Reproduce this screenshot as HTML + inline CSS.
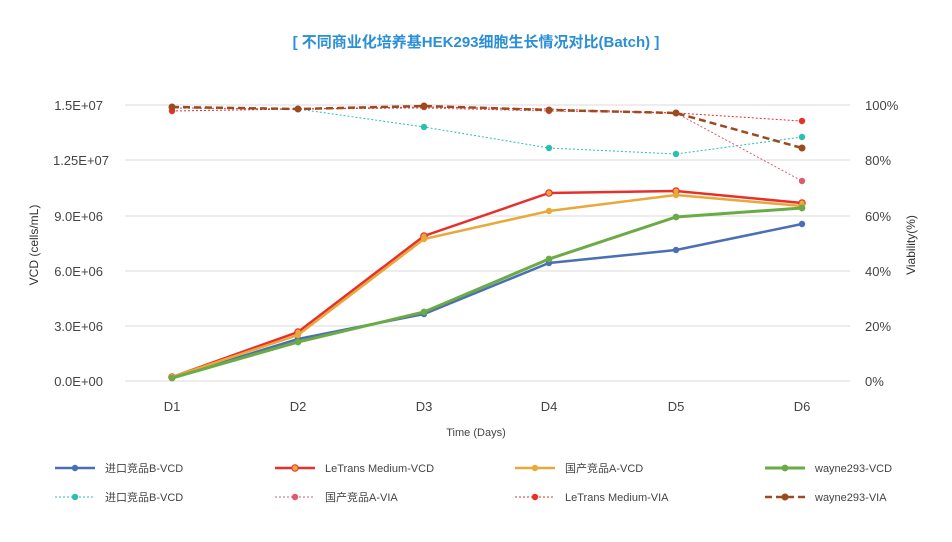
<!DOCTYPE html>
<html><head><meta charset="utf-8"><style>
html,body{margin:0;padding:0;background:#fff;}
svg{display:block;font-family:"Liberation Sans","Noto Sans CJK SC",sans-serif;}
</style></head><body>
<svg width="952" height="542" viewBox="0 0 952 542" xmlns="http://www.w3.org/2000/svg">
<text x="476" y="47" text-anchor="middle" font-size="15" font-weight="bold" fill="#2a8fd6">[ 不同商业化培养基HEK293细胞生长情况对比(Batch) ]</text>
<g stroke="#e2e2e2" stroke-width="1.3">
<line x1="125" y1="105" x2="850" y2="105"/><line x1="125" y1="160" x2="850" y2="160"/>
<line x1="125" y1="216" x2="850" y2="216"/><line x1="125" y1="271" x2="850" y2="271"/>
<line x1="125" y1="326" x2="850" y2="326"/><line x1="125" y1="381" x2="850" y2="381"/>
</g>
<g font-size="13" fill="#444" text-anchor="end">
<text x="103" y="110">1.5E+07</text><text x="109" y="165">1.25E+07</text>
<text x="103" y="221">9.0E+06</text><text x="103" y="276">6.0E+06</text>
<text x="103" y="331">3.0E+06</text><text x="103" y="386">0.0E+00</text>
</g>
<g font-size="13" fill="#444">
<text x="865" y="110">100%</text><text x="865" y="165">80%</text><text x="865" y="221">60%</text>
<text x="865" y="276">40%</text><text x="865" y="331">20%</text><text x="865" y="386">0%</text>
</g>
<g font-size="13" fill="#444" text-anchor="middle">
<text x="172" y="411">D1</text><text x="298" y="411">D2</text><text x="424" y="411">D3</text>
<text x="549" y="411">D4</text><text x="676" y="411">D5</text><text x="802" y="411">D6</text>
<text x="476" y="436" font-size="11">Time (Days)</text>
</g>
<text transform="translate(38,245) rotate(-90)" text-anchor="middle" font-size="12" fill="#333">VCD (cells/mL)</text>
<text transform="translate(915,245) rotate(-90)" text-anchor="middle" font-size="12" fill="#333">Viability(%)</text>

<!-- VIA dotted -->
<g fill="none" stroke-width="1" stroke-dasharray="2,2">
<polyline stroke="#2bbfb0" points="172,108 298,109 424,127 549,148 676,154 802,137"/>
<polyline stroke="#e05a6e" points="172,108 298,109 424,108 549,111 676,113 802,181"/>
<polyline stroke="#e8302a" points="172,111 298,109 424,107 549,109 676,113 802,121"/>
</g>
<g fill="#2bbfb0"><circle cx="172" cy="108" r="3.2"/><circle cx="298" cy="109" r="3.2"/><circle cx="424" cy="127" r="3.2"/><circle cx="549" cy="148" r="3.2"/><circle cx="676" cy="154" r="3.2"/><circle cx="802" cy="137" r="3.2"/></g>
<g fill="#e05a6e"><circle cx="549" cy="111" r="3.2"/><circle cx="802" cy="181" r="3.2"/></g>
<g fill="#e8302a"><circle cx="172" cy="111" r="3.2"/><circle cx="424" cy="107" r="3.2"/><circle cx="802" cy="121" r="3.2"/></g>
<polyline fill="none" stroke="#9c4a1e" stroke-width="2.5" stroke-dasharray="7,4" points="172,107 298,109 424,106 549,110 676,113 802,148"/>
<g fill="#9c4a1e"><circle cx="172" cy="107" r="3.5"/><circle cx="298" cy="109" r="3.5"/><circle cx="424" cy="106" r="3.5"/><circle cx="549" cy="110" r="3.5"/><circle cx="676" cy="113" r="3.5"/><circle cx="802" cy="148" r="3.5"/></g>

<!-- VCD -->
<polyline fill="none" stroke="#4a6fb5" stroke-width="2.5" points="172,378 298,339 424,314 549,263 676,250 802,224"/>
<g fill="#4a6fb5"><circle cx="172" cy="378" r="3.2"/><circle cx="298" cy="339" r="3.2"/><circle cx="424" cy="314" r="3.2"/><circle cx="549" cy="263" r="3.2"/><circle cx="676" cy="250" r="3.2"/><circle cx="802" cy="224" r="3.2"/></g>
<polyline fill="none" stroke="#e8302a" stroke-width="2.5" points="172,377 298,332 424,236 549,193 676,191 802,203"/>
<g fill="#e8a93a" stroke="#e8302a" stroke-width="1.2"><circle cx="172" cy="377" r="3.2"/><circle cx="298" cy="332" r="3.2"/><circle cx="424" cy="236" r="3.2"/><circle cx="549" cy="193" r="3.2"/><circle cx="676" cy="191" r="3.2"/><circle cx="802" cy="203" r="3.2"/></g>
<polyline fill="none" stroke="#e8a93a" stroke-width="2.5" points="172,377 298,335 424,239 549,211 676,195 802,206"/>
<g fill="#e8a93a"><circle cx="172" cy="377" r="3.2"/><circle cx="298" cy="335" r="3.2"/><circle cx="424" cy="239" r="3.2"/><circle cx="549" cy="211" r="3.2"/><circle cx="676" cy="195" r="3.2"/><circle cx="802" cy="206" r="3.2"/></g>
<polyline fill="none" stroke="#6aab45" stroke-width="3" points="172,378 298,342 424,312 549,259 676,217 802,208"/>
<g fill="#6aab45"><circle cx="172" cy="378" r="3.4"/><circle cx="298" cy="342" r="3.4"/><circle cx="424" cy="312" r="3.4"/><circle cx="549" cy="259" r="3.4"/><circle cx="676" cy="217" r="3.4"/><circle cx="802" cy="208" r="3.4"/></g>

<!-- legend -->
<g font-size="11" fill="#444">
<line x1="55" y1="468" x2="95" y2="468" stroke="#4a6fb5" stroke-width="2.5"/><circle cx="75" cy="468" r="3.2" fill="#4a6fb5"/><text x="105" y="472">进口竞品B-VCD</text>
<line x1="275" y1="468" x2="315" y2="468" stroke="#e8302a" stroke-width="2.5"/><circle cx="295" cy="468" r="3.2" fill="#e8a93a" stroke="#e8302a"/><text x="325" y="472">LeTrans Medium-VCD</text>
<line x1="515" y1="468" x2="555" y2="468" stroke="#e8a93a" stroke-width="2.5"/><circle cx="535" cy="468" r="3.2" fill="#e8a93a"/><text x="565" y="472">国产竞品A-VCD</text>
<line x1="765" y1="468" x2="805" y2="468" stroke="#6aab45" stroke-width="3"/><circle cx="785" cy="468" r="3.4" fill="#6aab45"/><text x="815" y="472">wayne293-VCD</text>
<line x1="55" y1="497" x2="95" y2="497" stroke="#2bbfb0" stroke-width="1" stroke-dasharray="2,2"/><circle cx="75" cy="497" r="3.2" fill="#2bbfb0"/><text x="105" y="501">进口竞品B-VCD</text>
<line x1="275" y1="497" x2="315" y2="497" stroke="#e05a6e" stroke-width="1" stroke-dasharray="2,2"/><circle cx="295" cy="497" r="3.2" fill="#e05a6e"/><text x="325" y="501">国产竞品A-VIA</text>
<line x1="515" y1="497" x2="555" y2="497" stroke="#e8302a" stroke-width="1" stroke-dasharray="2,2"/><circle cx="535" cy="497" r="3.2" fill="#e8302a"/><text x="565" y="501">LeTrans Medium-VIA</text>
<line x1="765" y1="497" x2="805" y2="497" stroke="#9c4a1e" stroke-width="2.5" stroke-dasharray="7,4"/><circle cx="785" cy="497" r="3.5" fill="#9c4a1e"/><text x="815" y="501">wayne293-VIA</text>
</g>
</svg>
</body></html>
